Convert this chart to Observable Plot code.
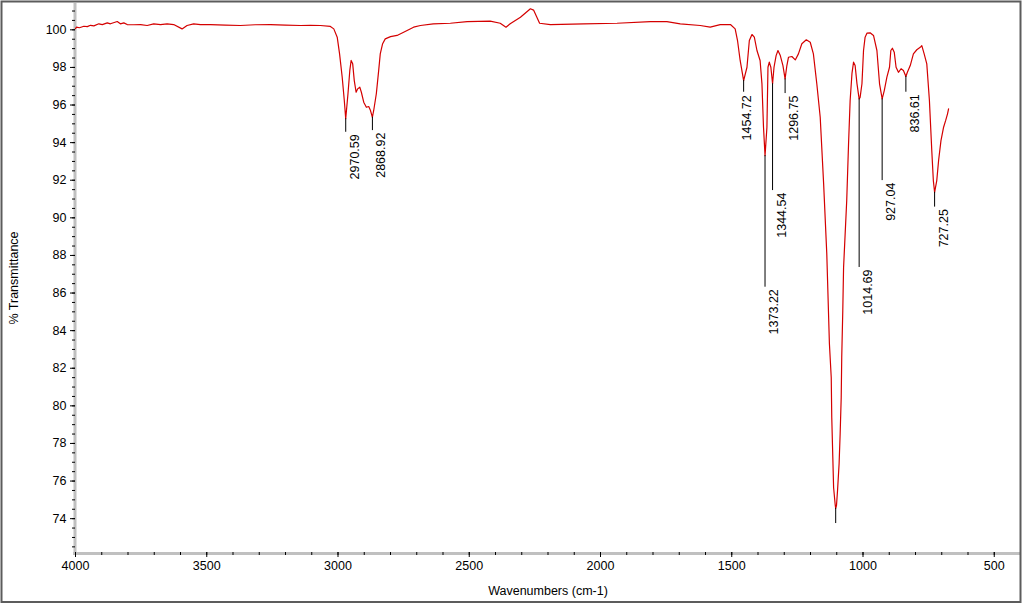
<!DOCTYPE html>
<html><head><meta charset="utf-8">
<script src="https://cdn.jsdelivr.net/npm/d3@7"></script>
<script src="https://cdn.jsdelivr.net/npm/@observablehq/plot@0.6"></script>
<style>
html,body{margin:0;padding:0;background:#fff;}
#chart{width:1024px;height:605px;}
</style></head><body><div id="chart"></div>
<script>
// Spectrum (wavenumber in cm-1, % transmittance)
const wavenumber = [4000,3996,3985,3968,3955,3943,3930,3911,3898,3879,3867,3841,3829,3816,3803,3778,3752,3727,3702,3676,3651,3626,3594,3575,3550,3524,3486,3429,3372,3315,3257,3200,3143,3105,3067,3029,3016,3003,2994,2984,2976,2970.6,2962,2955,2950,2944,2938,2931,2925,2917,2911,2902,2892,2883,2877,2869,2864,2854,2845,2839,2830,2820,2800,2775,2750,2712,2686,2637,2572,2508,2420,2382,2360,2344,2305,2267,2255,2232,2191,2064,1937,1810,1747,1696,1620,1582,1544,1505,1487,1478,1468,1457,1454.7,1442,1433,1423,1414,1404,1392,1385,1379,1373.2,1366,1362,1357,1351,1344.5,1339,1331,1324,1315,1305,1296.8,1290,1284,1271,1258,1246,1233,1216,1201,1189,1176,1163,1150,1138,1128,1121,1119,1115,1112,1106,1104,1101,1097,1091,1087,1083,1081,1077,1074,1062,1055,1049,1042,1036,1030,1023,1014.7,1011,1004,998,992,985,973,960,947,937,927,919,909,899,894,888,881,874,865,855,846,836.6,831,820,808,795,782,776,767,757,747,738,732,727.3,719,712,703,693,685,678,674];
const transmittance = [100.07,100.14,100.11,100.19,100.17,100.24,100.21,100.32,100.28,100.37,100.32,100.44,100.32,100.37,100.28,100.27,100.28,100.23,100.32,100.28,100.32,100.28,100.05,100.23,100.32,100.28,100.28,100.25,100.23,100.27,100.28,100.25,100.23,100.24,100.23,100.18,100.05,99.61,98.72,97.48,96.24,95.27,96.6,97.84,98.37,98.19,97.3,96.68,96.86,96.95,96.68,96.15,95.88,95.92,95.74,95.35,95.71,96.6,97.84,98.72,99.26,99.52,99.64,99.70,99.87,100.14,100.23,100.32,100.35,100.44,100.46,100.35,100.14,100.32,100.67,101.12,101.05,100.35,100.28,100.32,100.35,100.44,100.44,100.32,100.23,100.14,100.28,100.28,100.05,99.43,98.37,97.48,97.30,98.01,99.43,99.75,99.61,98.9,98.37,97.14,94.82,93.31,94.82,98.01,98.28,98.01,97.13,98.01,98.63,98.9,98.63,98.1,97.39,98.1,98.54,98.58,98.4,98.72,99.26,99.47,99.34,98.72,97.13,95.35,91.82,88.1,83.32,81.51,79.38,77.25,75.66,74.75,74.55,74.7,75.5,76.93,78.53,80.45,82.58,85.07,87.36,90.92,93.95,96.24,97.68,98.28,98.1,97.14,96.33,96.41,97.13,98.9,99.61,99.82,99.84,99.7,98.9,97.13,96.33,96.77,97.48,98.01,98.9,99.02,98.81,98.01,97.74,97.93,97.84,97.52,97.74,98.1,98.72,98.94,99.07,99.16,98.72,98.19,96.24,93.58,91.98,91.36,91.98,93.05,94.11,94.82,95.18,95.53,95.8];

// Peak annotations
const peakLabels     = ["2970.59","2868.92","1454.72","1373.22","1344.54","1296.75","1014.69","927.04","836.61","727.25",""];
const peakWavenumber = [2970.59, 2868.92, 1454.72, 1373.22, 1344.54, 1296.75, 1014.69, 927.04, 836.61, 727.25, 1104];
const peakMinT       = [95.27, 95.35, 97.30, 93.31, 97.13, 97.39, 96.33, 96.33, 97.52, 91.36, 74.55];
const peakLineEndT   = [94.55, 94.64, 96.68, 86.31, 91.45, 96.61, 87.36, 91.98, 96.68, 90.57, 73.74];

// Axis ticks
const xTicks = [4000, 3500, 3000, 2500, 2000, 1500, 1000, 500];
const xMinorTicks = d3.range(4000, 399, -100);
const yTicks = [74, 76, 78, 80, 82, 84, 86, 88, 90, 92, 94, 96, 98, 100];
const yMinorTicks = d3.range(72.5, 101.01, 0.5);

const xTitle = "Wavenumbers (cm-1)";
const yTitle = "% Transmittance";

const spectrum = wavenumber.map((w, i) => ({w, t: transmittance[i]}));
const peaks = peakLabels.map((label, i) => ({label, w: peakWavenumber[i], tMin: peakMinT[i], tEnd: peakLineEndT[i]}));

const font = "'Liberation Sans', Arial, sans-serif";
const fs = 12.5;

const chart = Plot.plot({
  width: 1024,
  height: 605,
  marginLeft: 75,
  marginRight: 4,
  marginTop: 3,
  marginBottom: 53,
  x: {domain: [4000, 400]},
  y: {domain: [72.2, 101.4]},
  style: {fontFamily: font, fontSize: fs + "px", background: "white", color: "black", overflow: "visible"},
  marks: [
    // grey axis lines
    Plot.ruleX([4000], {stroke: "#c0c0c0", strokeWidth: 3, dx: -0.5}),
    Plot.ruleY([72.2], {stroke: "#c0c0c0", strokeWidth: 3, dy: 1, insetLeft: -2}),
    // y ticks
    Plot.axisY({ticks: yMinorTicks, tickSize: 3, tickFormat: () => "", label: null, stroke: "black", strokeWidth: 1}),
    Plot.axisY({ticks: yTicks, tickSize: 5, tickPadding: 4, tickFormat: d => String(d), label: null, stroke: "black", fill: "black", fontSize: fs, strokeWidth: 1}),
    // x ticks
    Plot.axisX({ticks: xMinorTicks, tickSize: 3, tickFormat: () => "", label: null, stroke: "black", strokeWidth: 1}),
    Plot.axisX({ticks: xTicks, tickSize: 5, tickPadding: 4, tickFormat: d => String(d), label: null, stroke: "black", fill: "black", fontSize: fs, strokeWidth: 1}),
    // axis titles
    Plot.text([yTitle], {frameAnchor: "left", rotate: -90, dx: -62, lineAnchor: "middle", textAnchor: "middle", fill: "black", fontSize: fs}),
    Plot.text([xTitle], {frameAnchor: "bottom", dy: 38, lineAnchor: "middle", textAnchor: "middle", fill: "black", fontSize: fs}),
    // spectrum
    Plot.line(spectrum, {x: "w", y: "t", stroke: "#d40000", strokeWidth: 1.2}),
    // peak marker lines
    Plot.ruleX(peaks, {x: "w", y1: "tMin", y2: "tEnd", stroke: "black", strokeWidth: 1}),
    // peak labels
    Plot.text(peaks.filter(d => d.label && d.label !== "1454.72"), {x: "w", y: "tEnd", text: "label", rotate: -90, textAnchor: "end", lineAnchor: "middle", dx: 9, dy: 2, fill: "black", fontSize: fs}),
    Plot.text(peaks.filter(d => d.label === "1454.72"), {x: "w", y: "tEnd", text: "label", rotate: -90, textAnchor: "end", lineAnchor: "middle", dx: 3, dy: 3, fill: "black", fontSize: fs}),
    // outer frame
    Plot.frame({stroke: "#5c5c5c", strokeWidth: 2, insetLeft: -74, insetTop: -2, insetRight: 0, insetBottom: -49.5})
  ]
});
document.getElementById("chart").appendChild(chart);
</script>
</body></html>
